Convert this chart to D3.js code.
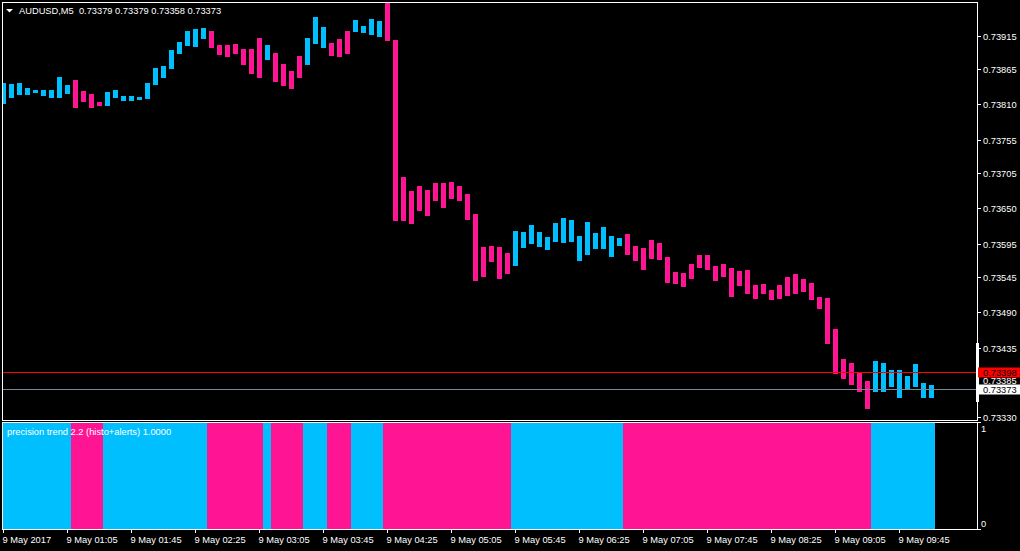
<!DOCTYPE html>
<html>
<head>
<meta charset="utf-8">
<script src="https://cdn.jsdelivr.net/npm/d3@7"></script>
<style>
  html, body { margin: 0; padding: 0; background: #000; }
  svg { display: block; }
  text { font-family: "Liberation Sans", Arial, sans-serif; font-size: 9.3px; fill: #fff; white-space: pre; }
</style>
</head>
<body>
<div id="chart"></div>
<script>
// ---------- data ----------
const symbolTitle = "AUDUSD,M5  0.73379 0.73379 0.73358 0.73373";
const indicatorTitle = "precision trend 2.2 (histo+alerts) 1.0000";

const high = [
  0.73842,0.73841,0.73842,0.73835,0.73832,0.73832,0.73832,0.73852,0.73840,0.73847,
  0.73830,0.73826,0.73813,0.73829,0.73832,0.73823,0.73823,0.73821,0.73843,0.73866,
  0.73869,0.73893,0.73906,0.73923,0.73926,0.73927,0.73923,0.73901,0.73901,0.73903,
  0.73895,0.73895,0.73912,0.73901,0.73889,0.73872,0.73861,0.73884,0.73912,0.73944,
  0.73929,0.73904,0.73910,0.73923,0.73940,0.73930,0.73941,0.73938,0.73966,0.73909,
  0.73698,0.73676,0.73684,0.73678,0.73689,0.73689,0.73690,0.73684,0.73672,0.73641,
  0.73590,0.73592,0.73590,0.73581,0.73615,0.73613,0.73624,0.73613,0.73606,0.73627,
  0.73635,0.73632,0.73607,0.73629,0.73612,0.73622,0.73607,0.73604,0.73610,0.73592,
  0.73589,0.73601,0.73596,0.73575,0.73552,0.73550,0.73565,0.73578,0.73579,0.73561,
  0.73564,0.73558,0.73553,0.73556,0.73532,0.73533,0.73524,0.73532,0.73545,0.73549,
  0.73541,0.73535,0.73513,0.73512,0.73464,0.73418,0.73413,0.73398,0.73385,0.73416,
  0.73413,0.73401,0.73401,0.73392,0.73410,0.73381,0.73379
];
const low = [
  0.73810,0.73820,0.73824,0.73825,0.73828,0.73823,0.73820,0.73820,0.73826,0.73805,
  0.73814,0.73805,0.73808,0.73808,0.73820,0.73815,0.73815,0.73817,0.73818,0.73840,
  0.73851,0.73865,0.73888,0.73900,0.73898,0.73911,0.73897,0.73886,0.73882,0.73888,
  0.73871,0.73857,0.73851,0.73878,0.73845,0.73838,0.73834,0.73851,0.73871,0.73902,
  0.73897,0.73885,0.73883,0.73888,0.73921,0.73920,0.73917,0.73913,0.73907,0.73630,
  0.73630,0.73626,0.73646,0.73639,0.73661,0.73650,0.73664,0.73661,0.73632,0.73538,
  0.73544,0.73567,0.73542,0.73549,0.73561,0.73589,0.73595,0.73590,0.73586,0.73598,
  0.73596,0.73598,0.73569,0.73579,0.73587,0.73587,0.73575,0.73592,0.73578,0.73569,
  0.73556,0.73572,0.73570,0.73536,0.73533,0.73529,0.73541,0.73559,0.73555,0.73538,
  0.73544,0.73513,0.73530,0.73518,0.73510,0.73519,0.73509,0.73510,0.73516,0.73518,
  0.73521,0.73509,0.73496,0.73442,0.73395,0.73388,0.73379,0.73368,0.73342,0.73368,
  0.73368,0.73376,0.73359,0.73372,0.73376,0.73358,0.73358
];
// 1 = up trend (blue), 0 = down trend (pink)
const trend = [
  1,1,1,1,1,1,1,1,1,0, 0,0,0,1,1,1,1,1,1,1,
  1,1,1,1,1,1,0,0,0,0, 0,0,0,1,0,0,0,0,1,1,
  1,0,0,0,1,1,1,1,0,0, 0,0,0,0,0,0,0,0,0,0,
  0,0,0,0,1,1,1,1,1,1, 1,1,1,1,1,1,1,1,0,0,
  0,0,0,0,0,0,0,0,0,0, 0,0,0,0,0,0,0,0,0,0,
  0,0,0,0,0,0,0,0,0,1, 1,1,1,1,1,1,1
];
const timeLabels = ["9 May 2017","9 May 01:05","9 May 01:45","9 May 02:25","9 May 03:05",
  "9 May 03:45","9 May 04:25","9 May 05:05","9 May 05:45","9 May 06:25","9 May 07:05",
  "9 May 07:45","9 May 08:25","9 May 09:05","9 May 09:45"];
const timeLabelBars = [0,8,16,24,32,40,48,56,64,72,80,88,96,104,112];
const priceTicks = [0.73915,0.73865,0.73810,0.73755,0.73705,0.73650,0.73595,0.73545,0.73490,0.73435,0.73330];
const redLevel = 0.73398;
const midLevel = 0.73385;
const bidLevel = 0.73373;
const indTicks = [1, 0];

// ---------- layout ----------
const W = 1020, H = 551;
const BLUE = "#00BFFF", PINK = "#FF1493";
const mainL = 2, mainR = 977, mainT = 2, mainB = 420;
const indT = 422, indB = 529;

const svg = d3.select("#chart").append("svg").attr("width", W).attr("height", H);
svg.append("rect").attr("width", W).attr("height", H).attr("fill", "#000");

const idx = d3.range(high.length);
const x = d3.scaleBand().domain(idx).range([-1, -1 + 8 * idx.length]).paddingInner(0).paddingOuter(0);
const y = d3.scaleLinear().domain([0.73330, 0.73915]).range([416.5, 36]);
const yi = d3.scaleLinear().domain([0, 1]).range([indB, indT]);

const defs = svg.append("defs");
defs.append("clipPath").attr("id", "clipMain").append("rect")
  .attr("x", mainL + 1).attr("y", mainT + 1).attr("width", mainR - mainL - 1).attr("height", mainB - mainT - 1);
defs.append("clipPath").attr("id", "clipInd").append("rect")
  .attr("x", mainL + 1).attr("y", indT + 1).attr("width", mainR - mainL - 1).attr("height", indB - indT - 1);

// main bars
const gMain = svg.append("g").attr("clip-path", "url(#clipMain)");
gMain.selectAll("rect.bar").data(idx).join("rect").attr("class", "bar")
  .attr("x", i => x(i) + 2)
  .attr("width", 5)
  .attr("y", i => Math.round(y(high[i])))
  .attr("height", i => Math.max(2, Math.round(y(low[i])) - Math.round(y(high[i]))))
  .attr("fill", i => trend[i] ? BLUE : PINK);

// level lines
gMain.append("line").attr("x1", mainL).attr("x2", mainR).attr("y1", Math.round(y(redLevel)) + 0.5).attr("y2", Math.round(y(redLevel)) + 0.5)
  .attr("stroke", "#FF0000").attr("stroke-width", 1);
gMain.append("line").attr("x1", mainL).attr("x2", mainR).attr("y1", Math.round(y(bidLevel)) + 0.5).attr("y2", Math.round(y(bidLevel)) + 0.5)
  .attr("stroke", "#778899").attr("stroke-width", 1);

// indicator histogram
const gInd = svg.append("g").attr("clip-path", "url(#clipInd)");
gInd.selectAll("rect").data(idx).join("rect")
  .attr("x", i => x(i))
  .attr("width", x.bandwidth())
  .attr("y", yi(1) + 1)
  .attr("height", yi(0) - yi(1) - 1)
  .attr("fill", i => trend[i] ? BLUE : PINK);

// frames
svg.append("rect").attr("x", mainL + 0.5).attr("y", mainT + 0.5).attr("width", mainR - mainL).attr("height", mainB - mainT)
  .attr("fill", "none").attr("stroke", "#fff");
svg.append("rect").attr("x", mainL + 0.5).attr("y", indT + 0.5).attr("width", mainR - mainL).attr("height", indB - indT)
  .attr("fill", "none").attr("stroke", "#fff");

// header
svg.append("path").attr("d", "M6,9 L13,9 L9.5,12.5 Z").attr("fill", "#fff");
svg.append("text").attr("x", 19).attr("y", 14).text(symbolTitle);
svg.append("text").attr("x", 7).attr("y", 435).text(indicatorTitle);

// right price axis
const gY = svg.append("g");
priceTicks.forEach(p => {
  const yy = Math.round(y(p)) + 0.5;
  gY.append("line").attr("x1", mainR + 1).attr("x2", mainR + 4).attr("y1", yy).attr("y2", yy).attr("stroke", "#fff");
  gY.append("text").attr("x", 983).attr("y", yy + 3.5).text(p.toFixed(5));
});
svg.append("rect").attr("x", 976).attr("y", 343).attr("width", 3).attr("height", 59).attr("fill", "#fff");
// level labels
svg.append("text").attr("x", 983).attr("y", y(midLevel) + 3).text(midLevel.toFixed(5));
const ry = Math.round(y(redLevel));
svg.append("rect").attr("x", 978).attr("y", ry - 4.5).attr("width", 42).attr("height", 10).attr("fill", "#FF0000");
svg.append("text").attr("x", 983).attr("y", ry + 4).style("fill", "#000").text(redLevel.toFixed(5));
const by = Math.round(y(bidLevel));
svg.append("rect").attr("x", 978).attr("y", by - 4.5).attr("width", 42).attr("height", 10).attr("fill", "#fff");
svg.append("text").attr("x", 983).attr("y", by + 4).style("fill", "#000").text(bidLevel.toFixed(5));

// indicator axis
indTicks.forEach(v => {
  const yy = yi(v) + 0.5;
  svg.append("line").attr("x1", mainR + 1).attr("x2", mainR + 4).attr("y1", yy).attr("y2", yy).attr("stroke", "#fff");
  svg.append("text").attr("x", 981).attr("y", v ? yy + 9.5 : yy - 3).text(String(v));
});

// time axis
timeLabels.forEach((t, k) => {
  const xx = x(timeLabelBars[k]) + 4.5;
  svg.append("line").attr("x1", xx).attr("x2", xx).attr("y1", indB).attr("y2", indB + 4).attr("stroke", "#fff");
  svg.append("text").attr("x", xx - 1).attr("y", 543).text(t);
});
</script>
</body>
</html>
